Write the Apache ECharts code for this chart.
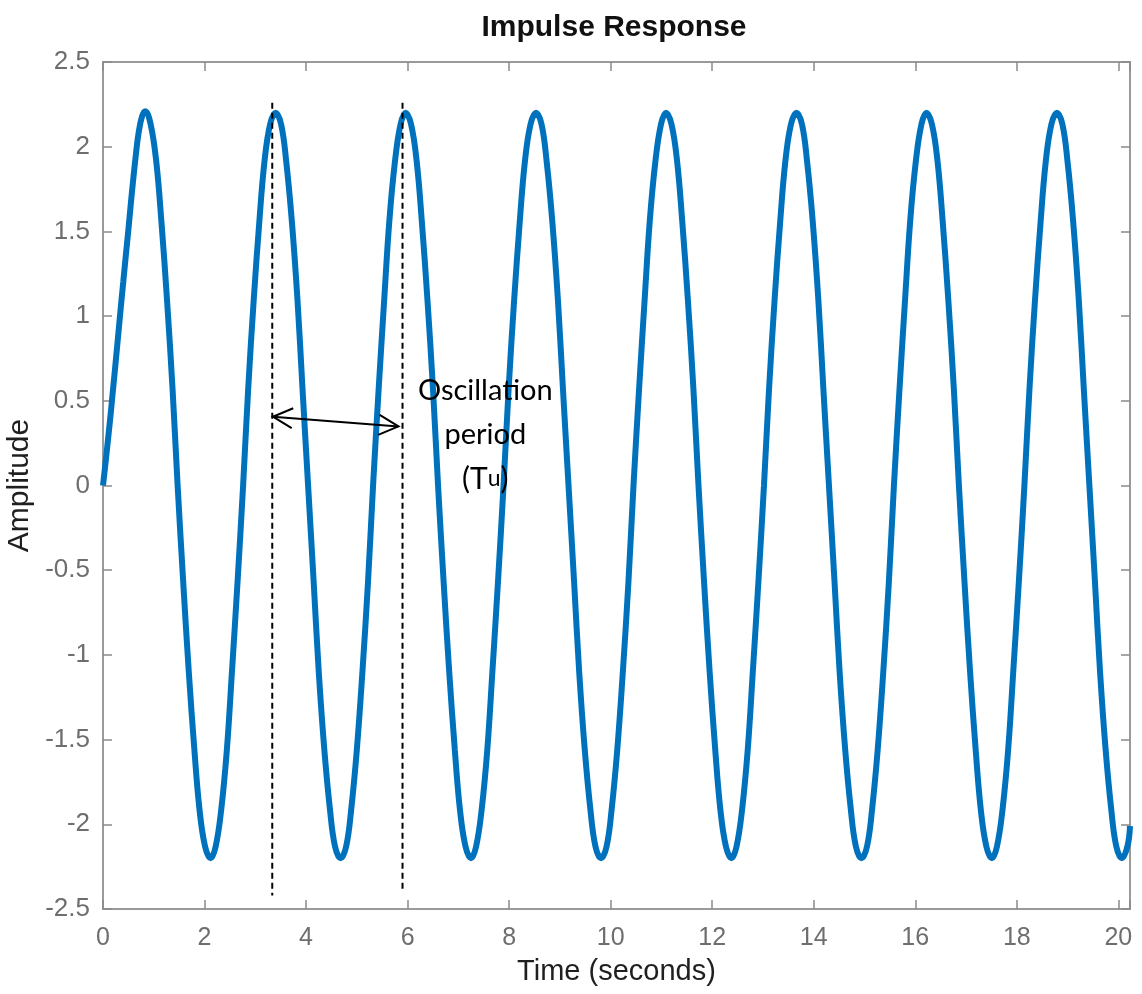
<!DOCTYPE html>
<html>
<head>
<meta charset="utf-8">
<script src="https://cdn.jsdelivr.net/npm/echarts@6/dist/echarts.min.js"></script>
<style>
html,body{margin:0;padding:0;background:#fff;}
#chart{width:1142px;height:994px;}
</style>
</head>
<body>
<div id="chart"></div>
<script>
// ---- data ----
const time = [
  0, 0.05, 0.10, 0.15, 0.20, 0.25, 0.30, 0.35, 0.40, 0.45, 0.50, 0.55, 0.60, 0.65, 0.70, 0.77, 0.833,
  0.94, 1.05, 1.15, 1.26, 1.37, 1.47, 1.58, 1.69, 1.80, 1.90, 2.01, 2.12, 2.22, 2.33, 2.44, 2.54, 2.65, 2.76, 2.86, 2.97, 3.08, 3.18, 3.29, 3.40,
  3.51, 3.61, 3.72, 3.83, 3.93, 4.04, 4.15, 4.25, 4.36, 4.47, 4.57, 4.68, 4.79, 4.89, 5.00, 5.11, 5.22, 5.32, 5.43, 5.54, 5.64, 5.75, 5.86, 5.96,
  6.07, 6.18, 6.28, 6.39, 6.50, 6.60, 6.71, 6.82, 6.93, 7.03, 7.14, 7.25, 7.35, 7.46, 7.57, 7.67, 7.78, 7.89, 7.99, 8.10, 8.21, 8.31, 8.42, 8.53,
  8.64, 8.74, 8.85, 8.96, 9.06, 9.17, 9.28, 9.38, 9.49, 9.60, 9.70, 9.81, 9.92, 10.02, 10.13, 10.24, 10.35, 10.45, 10.56, 10.67, 10.77, 10.88, 10.99, 11.09,
  11.20, 11.31, 11.41, 11.52, 11.63, 11.73, 11.84, 11.95, 12.06, 12.16, 12.27, 12.38, 12.48, 12.59, 12.70, 12.80, 12.91, 13.02, 13.12, 13.23, 13.34, 13.44, 13.55, 13.66,
  13.77, 13.87, 13.98, 14.09, 14.19, 14.30, 14.41, 14.51, 14.62, 14.73, 14.83, 14.94, 15.05, 15.15, 15.26, 15.37, 15.48, 15.58, 15.69, 15.80, 15.90, 16.01, 16.12, 16.22,
  16.33, 16.44, 16.54, 16.65, 16.76, 16.86, 16.97, 17.08, 17.19, 17.29, 17.40, 17.51, 17.61, 17.72, 17.83, 17.93, 18.04, 18.15, 18.25, 18.36, 18.47, 18.57, 18.68, 18.79,
  18.90, 19.00, 19.11, 19.22, 19.32, 19.43, 19.54, 19.64, 19.75, 19.86, 19.96, 20.07, 20.18, 20.23
];
const amplitude = [
  0, 0.135, 0.275, 0.42, 0.575, 0.73, 0.89, 1.05, 1.205, 1.36, 1.51, 1.67, 1.82, 1.96, 2.08, 2.18, 2.21,
  2.13, 1.91, 1.56, 1.10, 0.57, 0, -0.57, -1.10, -1.56, -1.91, -2.13, -2.20, -2.13, -1.91, -1.56, -1.10, -0.57, 0, 0.57, 1.10, 1.56, 1.91, 2.13, 2.20,
  2.13, 1.91, 1.56, 1.10, 0.57, 0, -0.57, -1.10, -1.56, -1.91, -2.13, -2.20, -2.13, -1.91, -1.56, -1.10, -0.57, 0, 0.57, 1.10, 1.56, 1.91, 2.13, 2.20,
  2.13, 1.91, 1.56, 1.10, 0.57, 0, -0.57, -1.10, -1.56, -1.91, -2.13, -2.20, -2.13, -1.91, -1.56, -1.10, -0.57, 0, 0.57, 1.10, 1.56, 1.91, 2.13, 2.20,
  2.13, 1.91, 1.56, 1.10, 0.57, 0, -0.57, -1.10, -1.56, -1.91, -2.13, -2.20, -2.13, -1.91, -1.56, -1.10, -0.57, 0, 0.57, 1.10, 1.56, 1.91, 2.13, 2.20,
  2.13, 1.91, 1.56, 1.10, 0.57, 0, -0.57, -1.10, -1.56, -1.91, -2.13, -2.20, -2.13, -1.91, -1.56, -1.10, -0.57, 0, 0.57, 1.10, 1.56, 1.91, 2.13, 2.20,
  2.13, 1.91, 1.56, 1.10, 0.57, 0, -0.57, -1.10, -1.56, -1.91, -2.13, -2.20, -2.13, -1.91, -1.56, -1.10, -0.57, 0, 0.57, 1.10, 1.56, 1.91, 2.13, 2.20,
  2.13, 1.91, 1.56, 1.10, 0.57, 0, -0.57, -1.10, -1.56, -1.91, -2.13, -2.20, -2.13, -1.91, -1.56, -1.10, -0.57, 0, 0.57, 1.10, 1.56, 1.91, 2.13, 2.20,
  2.13, 1.91, 1.56, 1.10, 0.57, 0, -0.57, -1.10, -1.56, -1.91, -2.13, -2.20, -2.13, -2.01
];
const xRange = [0, 20.23];
const xStep = 2;
const yRange = [-2.5, 2.5];
const yStep = 0.5;

// annotation (data coordinates)
const guideX = [3.334, 5.90];
const guideTop = [2.26, 2.26];
const guideBottom = [-2.42, -2.38];
const arrowFrom = [3.347, 0.406];
const arrowTo = [5.82, 0.349];
const noteLines = ['Oscillation', 'period', '(T', 'u', ')'];
const noteAt = [7.53, 0.298];

const titleText = 'Impulse Response';
const xName = 'Time (seconds)';
const yName = 'Amplitude';

// ---- chart ----
const FONT = "'Liberation Sans', Arial, Helvetica, sans-serif";
const NOTE_FONT = 'Lato, "Open Sans", sans-serif';
const AX = '#9a9a9a';
const TK = '#8a8a8a';
const LB = '#6e6e6e';

const lineData = time.map((t, i) => [t, amplitude[i]]);

function xLabel(v) {
  return (Math.abs(v / xStep - Math.round(v / xStep)) < 1e-6) ? String(Math.round(v)) : '';
}

function renderNote(params, api) {
  const children = [];
  for (let i = 0; i < guideX.length; i++) {
    const p1 = api.coord([guideX[i], guideTop[i]]);
    const p2 = api.coord([guideX[i], guideBottom[i]]);
    children.push({
      type: 'line',
      shape: {x1: p1[0], y1: p1[1], x2: p2[0], y2: p2[1]},
      style: {stroke: '#000', lineWidth: 2, lineDash: [6, 4]}
    });
  }
  const a = api.coord(arrowFrom), b = api.coord(arrowTo);
  children.push({
    type: 'line',
    shape: {x1: a[0], y1: a[1], x2: b[0], y2: b[1]},
    style: {stroke: '#000', lineWidth: 2}
  });
  function head(tip, other) {
    const dx = other[0] - tip[0], dy = other[1] - tip[1];
    const len = Math.hypot(dx, dy);
    const ux = dx / len, uy = dy / len;
    const L = 22, ang = 27 * Math.PI / 180;
    const c = Math.cos(ang), s = Math.sin(ang);
    const r1 = [tip[0] + L * (ux * c - uy * s), tip[1] + L * (ux * s + uy * c)];
    const r2 = [tip[0] + L * (ux * c + uy * s), tip[1] + L * (-ux * s + uy * c)];
    return {
      type: 'polyline',
      shape: {points: [r1, tip, r2]},
      style: {stroke: '#000', lineWidth: 2, fill: null}
    };
  }
  children.push(head(a, b));
  children.push(head(b, a));
  const t = api.coord(noteAt);
  children.push({
    type: 'text',
    x: t[0], y: t[1],
    style: {
      text: '{a|' + noteLines[0] + '}\n{a|' + noteLines[1] + '}\n{b|' + noteLines[2] + '}{s|' + noteLines[3] + '}{b|' + noteLines[4] + '}',
      align: 'center',
      verticalAlign: 'middle',
      rich: {
        a: {fontFamily: NOTE_FONT, fontSize: 29, lineHeight: 44, fill: '#000'},
        b: {fontFamily: NOTE_FONT, fontSize: 30, lineHeight: 44, verticalAlign: 'middle', fill: '#000'},
        s: {fontFamily: NOTE_FONT, fontSize: 23, lineHeight: 44, verticalAlign: 'middle', fill: '#000'}
      }
    }
  });
  return {type: 'group', children};
}

const chart = echarts.init(document.getElementById('chart'), null, {renderer: 'canvas'});
chart.setOption({
  backgroundColor: '#fff',
  animation: false,
  title: {
    text: titleText,
    left: 609,
    top: 8,
    textAlign: 'center',
    textStyle: {fontFamily: FONT, fontSize: 30, fontWeight: 'bold', color: '#111'}
  },
  grid: {left: 103, right: 12, top: 62, bottom: 85, containLabel: false, outerBoundsMode: 'none'},
  xAxis: [{
    type: 'value',
    min: xRange[0], max: xRange[1], interval: xStep,
    position: 'bottom',
    name: xName,
    nameLocation: 'middle',
    nameGap: 48,
    nameTextStyle: {fontFamily: FONT, fontSize: 29, color: '#1f1f1f'},
    axisLine: {show: true, onZero: false, lineStyle: {color: AX, width: 2}},
    axisTick: {show: true, inside: true, length: 9, lineStyle: {color: TK, width: 1.5}},
    axisLabel: {show: true, margin: 17, fontFamily: FONT, fontSize: 25, color: LB, formatter: xLabel},
    splitLine: {show: false}
  }, {
    type: 'value',
    min: xRange[0], max: xRange[1], interval: xStep,
    position: 'top',
    axisLine: {show: true, onZero: false, lineStyle: {color: AX, width: 2}},
    axisTick: {show: true, inside: true, length: 9, lineStyle: {color: TK, width: 1.5}},
    axisLabel: {show: false},
    splitLine: {show: false}
  }],
  yAxis: [{
    type: 'value',
    min: yRange[0], max: yRange[1], interval: yStep,
    position: 'left',
    name: yName,
    nameLocation: 'middle',
    nameGap: 66,
    nameTextStyle: {fontFamily: FONT, fontSize: 30, color: '#1f1f1f'},
    axisLine: {show: true, onZero: false, lineStyle: {color: AX, width: 2}},
    axisTick: {show: true, inside: true, length: 9, lineStyle: {color: TK, width: 1.5}},
    axisLabel: {show: true, margin: 13, fontFamily: FONT, fontSize: 26, color: LB},
    splitLine: {show: false}
  }, {
    type: 'value',
    min: yRange[0], max: yRange[1], interval: yStep,
    position: 'right',
    axisLine: {show: true, onZero: false, lineStyle: {color: AX, width: 2}},
    axisTick: {show: true, inside: true, length: 9, lineStyle: {color: TK, width: 1.5}},
    axisLabel: {show: false},
    splitLine: {show: false}
  }],
  series: [{
    type: 'line',
    xAxisIndex: 0, yAxisIndex: 0,
    data: lineData,
    smooth: 0.4,
    showSymbol: false,
    symbol: 'none',
    lineStyle: {color: '#0072BD', width: 6},
    clip: true,
    z: 2
  }, {
    type: 'custom',
    xAxisIndex: 0, yAxisIndex: 0,
    data: [[0, 0]],
    renderItem: renderNote,
    silent: true,
    clip: false,
    z: 3
  }]
});
</script>
</body>
</html>
